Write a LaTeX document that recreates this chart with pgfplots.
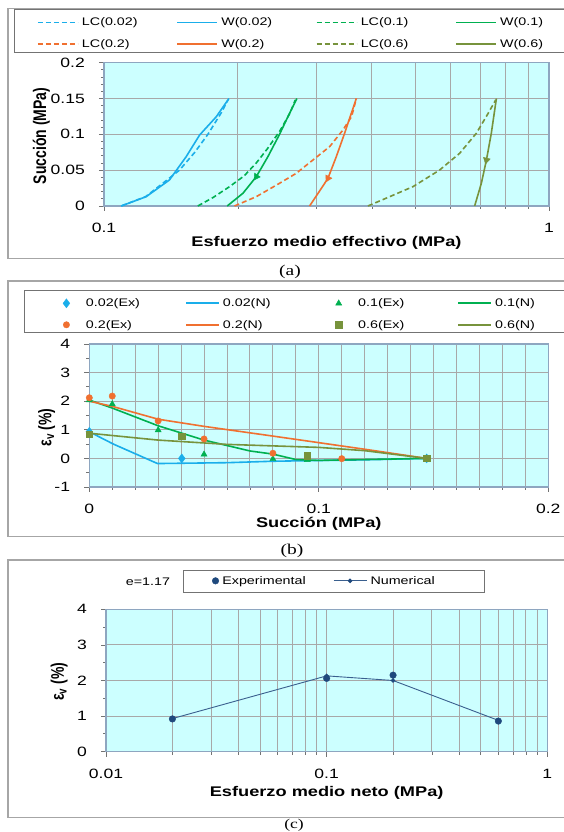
\documentclass[border=0pt]{standalone}
\usepackage{fontspec}
\setmainfont{Liberation Sans}
\newfontfamily\capfont{Liberation Serif}
\usepackage{pgfplots}
\pgfplotsset{compat=1.18}
\definecolor{cBlue}{HTML}{1AAEEA}
\definecolor{cGreen}{HTML}{00B050}
\definecolor{cOrange}{HTML}{F07030}
\definecolor{cOlive}{HTML}{77933C}
\definecolor{cNavy}{HTML}{1F497D}
\definecolor{cNavyL}{HTML}{3A5F8E}
\definecolor{cBg}{HTML}{CCFFFF}
\definecolor{cGrid}{HTML}{A8A8A8}
\definecolor{cAxis}{HTML}{8EA6C0}
\definecolor{cFrame}{HTML}{A6A6A6}
\newcommand{\hs}[1]{\scalebox{1.3}[1]{#1}}
\newcommand{\vs}[1]{\scalebox{1}[1.3]{#1}}
\newcommand{\tickfont}{\fontsize{13.5}{14}\selectfont}
\newcommand{\labfont}{\fontsize{14}{15}\selectfont\bfseries}
\newcommand{\legfont}{\fontsize{11}{12}\selectfont}
\pgfplotsset{
  myaxis/.style={
    scale only axis, anchor=south west, clip=false,
    axis background/.style={fill=cBg},
    axis line style={cAxis, line width=1.2pt},
    major grid style={cGrid, line width=1pt},
    minor grid style={cGrid, line width=1pt},
    tick style={black!55, line width=0.8pt},
    major tick length=5pt, minor tick length=3pt,
    tick align=outside, tick pos=left,
    xticklabel style={font=\tickfont, anchor=center, yshift=-17pt},
    yticklabel style={font=\tickfont, anchor=east, inner sep=0pt, xshift=-14pt},
    legend cell align=left,
  },
}
\begin{document}
\begin{tikzpicture}
\path[use as bounding box] (0pt,0pt) rectangle (563pt,832pt);
% frames
\draw[cFrame, line width=1.4pt] (8pt,573.5pt) rectangle (580pt,823.5pt);
\draw[cFrame, line width=1.4pt] (8pt,295.3pt) rectangle (580pt,551pt);
\draw[cFrame, line width=1.4pt] (8pt,14.5pt) rectangle (580pt,272pt);
\node[font=\capfont\fontsize{15}{16}\selectfont] at (290pt,560pt) {\hs{(a)}};
\node[font=\capfont\fontsize{15}{16}\selectfont] at (292pt,281.3pt) {\hs{(b)}};
\node[font=\capfont\fontsize{13.5}{14}\selectfont, inner sep=0pt] at (294pt,6.8pt) {\hs{(c)}};
% legend boxes
\draw[black!55, line width=1pt, fill=white] (14pt,779.3pt) rectangle (600pt,822.7pt);
\draw[black!55, line width=1pt, fill=white] (24.4pt,499pt) rectangle (600pt,541pt);
\draw[black!55, line width=1pt, fill=white] (183.8pt,239.7pt) rectangle (484pt,261.3pt);

% ---------------- (a)
\begin{axis}[myaxis, at={(104pt,626pt)}, width=445pt, height=143.3pt,
  xmode=log, xmin=0.1, xmax=1, ymin=0, ymax=0.2,
  xtick={0.1,1}, xticklabels={\hs{0.1},\hs{1}},
  minor xtick={0.2,0.3,0.4,0.5,0.6,0.7,0.8,0.9},
  ytick={0,0.05,0.1,0.15,0.2},
  yticklabels={\hs{0},\hs{0.05},\hs{0.1},\hs{0.15},\hs{0.2}},
  minor ytick={0.01,0.02,0.03,0.04,0.06,0.07,0.08,0.09,0.11,0.12,0.13,0.14,0.16,0.17,0.18,0.19},
  xmajorgrids, xminorgrids, ymajorgrids,
  xlabel={\hs{\labfont Esfuerzo medio effectivo (MPa)}},
  ylabel={\vs{\labfont Succión (MPa)}},
  x label style={at={(axis description cs:0.5,-0.2603)}, anchor=center},
  y label style={at={(axis description cs:-0.1409,0.4885)}, anchor=center},
  legend columns=4,
  legend image code/.code={\draw[#1, line width=1.7pt, line cap=butt] (0pt,0pt) -- (40pt,0pt);},
  legend style={at={(-0.1506,1.325)}, anchor=north west, draw=none, fill=none,
    inner sep=0pt, outer sep=0pt, font=\legfont, row sep=9pt,
    nodes={inner sep=1.5pt},
    /tikz/every odd column/.append style={column sep=1.8pt},
    /tikz/every even column/.append style={column sep=7.9pt}},
]
\addplot[cBlue, line width=1.6pt, dash pattern=on 5pt off 3pt] coordinates {(0.1093,0) (0.124,0.013) (0.1345,0.03) (0.1478,0.05) (0.160,0.075) (0.1712,0.1) (0.1834,0.13) (0.1900,0.148)};
\addlegendentry{\makebox[85pt][l]{\hs{LC(0.02)}}}
\addplot[cBlue, line width=1.6pt] coordinates {(0.1093,0) (0.1244,0.013) (0.1403,0.0363) (0.1530,0.0688) (0.1640,0.099) (0.1788,0.1246) (0.1909,0.15)};
\addlegendentry{\makebox[85pt][l]{\hs{W(0.02)}}}
\addplot[cGreen, line width=1.6pt, dash pattern=on 5pt off 3pt] coordinates {(0.1625,0) (0.176,0.012) (0.1915,0.027) (0.2065,0.042) (0.2199,0.06) (0.233,0.08) (0.2486,0.105) (0.262,0.13) (0.269,0.148)};
\addlegendentry{\makebox[85pt][l]{\hs{LC(0.1)}}}
\addplot[cGreen, line width=1.6pt] coordinates {(0.1892,0) (0.2052,0.0177) (0.2199,0.0409) (0.2335,0.0688) (0.248,0.1) (0.259,0.1246) (0.2713,0.15)};
\addlegendentry{\makebox[85pt][l]{\hs{W(0.1)}}}
\addplot[cOrange, line width=1.6pt, dash pattern=on 5pt off 3pt] coordinates {(0.1965,0) (0.2199,0.013) (0.248,0.0317) (0.2704,0.0456) (0.2948,0.0642) (0.3214,0.0828) (0.3443,0.106) (0.3602,0.125) (0.369,0.15)};
\addlegendentry{\makebox[85pt][l]{\hs{LC(0.2)}}}
\addplot[cOrange, line width=1.6pt] coordinates {(0.2897,0) (0.3045,0.02) (0.3186,0.0386) (0.3327,0.0688) (0.3473,0.1015) (0.369,0.15)};
\addlegendentry{\makebox[85pt][l]{\hs{W(0.2)}}}
\addplot[cOlive, line width=1.6pt, dash pattern=on 5pt off 3pt] coordinates {(0.3918,0) (0.4385,0.013) (0.4947,0.027) (0.5679,0.0502) (0.630,0.0736) (0.6867,0.1015) (0.7295,0.129) (0.7591,0.148)};
\addlegendentry{\makebox[85pt][l]{\hs{LC(0.6)}}}
\addplot[cOlive, line width=1.6pt] coordinates {(0.6807,0) (0.7047,0.0317) (0.7234,0.064) (0.742,0.1015) (0.7618,0.15)};
\addlegendentry{\makebox[85pt][l]{\hs{W(0.6)}}}
% direction arrows
\addplot[forget plot, only marks, mark=triangle*, mark size=4pt, cGreen, mark options={rotate=146}] coordinates {(0.2199,0.0409)};
\addplot[forget plot, only marks, mark=triangle*, mark size=4pt, cOrange, mark options={rotate=152}] coordinates {(0.3186,0.0386)};
\addplot[forget plot, only marks, mark=triangle*, mark size=4pt, cOlive, mark options={rotate=167}] coordinates {(0.7234,0.064)};
\end{axis}

% ---------------- (b)
\begin{axis}[myaxis, at={(89.3pt,345pt)}, width=459pt, height=143pt,
  xmin=0, xmax=0.2, ymin=-1, ymax=4,
  xtick={0,0.1,0.2}, xticklabels={\hs{0},\hs{0.1},\hs{0.2}},
  minor xtick={0.01,0.02,0.03,0.04,0.05,0.06,0.07,0.08,0.09,0.11,0.12,0.13,0.14,0.15,0.16,0.17,0.18,0.19},
  ytick={-1,0,1,2,3,4}, yticklabels={\hs{-1},\hs{0},\hs{1},\hs{2},\hs{3},\hs{4}},
  minor ytick={-0.5,0.5,1.5,2.5,3.5},
  xmajorgrids, xminorgrids, ymajorgrids,
  xlabel={\hs{\labfont Succión (MPa)}},
  ylabel={\vs{\labfont ε\textsubscript{v} (\%)}},
  x label style={at={(axis description cs:0.5,-0.2587)}, anchor=center},
  y label style={at={(axis description cs:-0.0928,0.416)}, anchor=center},
  legend columns=4,
  legend image code/.code={\draw[#1, line width=1.7pt, line cap=butt] (0pt,0pt) -- (33pt,0pt);},
  legend style={at={(-0.0858,1.328)}, anchor=north west, draw=none, fill=none,
    inner sep=0pt, outer sep=0pt, font=\legfont, row sep=9pt,
    nodes={inner sep=1.5pt},
    /tikz/every odd column/.append style={column sep=1.5pt},
    /tikz/every even column/.append style={column sep=9.8pt}},
  markleg/.style={legend image code/.code={\path[draw=none, fill=none] (0pt,0pt) -- (33pt,0pt); \draw[##1] plot coordinates {(16.5pt,0pt)};}},
]
\addplot[markleg, only marks, mark=diamond*, mark size=4.5pt, cBlue] coordinates {(0,0.93) (0.0403,0) (0.147,0)};
\addlegendentry{\makebox[88pt][l]{\hs{0.02(Ex)}}}
\addplot[cBlue, line width=1.6pt] coordinates {(0,0.93) (0.0105,0.5) (0.0297,-0.18) (0.06,-0.15) (0.08,-0.1) (0.095,-0.08) (0.12,-0.05) (0.147,0)};
\addlegendentry{\makebox[88pt][l]{\hs{0.02(N)}}}
\addplot[markleg, only marks, mark=triangle*, mark size=3.5pt, cGreen] coordinates {(0,2.04) (0.01,1.9) (0.03,0.99) (0.05,0.14) (0.08,-0.02) (0.095,-0.05) (0.147,0)};
\addlegendentry{\makebox[88pt][l]{\hs{0.1(Ex)}}}
\addplot[cGreen, line width=1.6pt] coordinates {(0,2.04) (0.01,1.76) (0.03,1.14) (0.05,0.64) (0.07,0.26) (0.08,0.15) (0.09,-0.04) (0.1,-0.07) (0.12,-0.04) (0.147,0)};
\addlegendentry{\makebox[88pt][l]{\hs{0.1(N)}}}
\addplot[markleg, only marks, mark=*, mark size=3.2pt, cOrange] coordinates {(0,2.12) (0.01,2.18) (0.03,1.31) (0.05,0.68) (0.08,0.18) (0.11,-0.01) (0.147,0)};
\addlegendentry{\makebox[88pt][l]{\hs{0.2(Ex)}}}
\addplot[cOrange, line width=1.6pt] coordinates {(0,2.0) (0.01,1.82) (0.03,1.37) (0.05,1.12) (0.08,0.78) (0.1,0.55) (0.12,0.32) (0.147,0)};
\addlegendentry{\makebox[88pt][l]{\hs{0.2(N)}}}
\addplot[markleg, only marks, mark=square*, mark size=3.3pt, cOlive] coordinates {(0,0.84) (0.0403,0.78) (0.095,0.09) (0.147,0)};
\addlegendentry{\makebox[88pt][l]{\hs{0.6(Ex)}}}
\addplot[cOlive, line width=1.6pt] coordinates {(0,0.88) (0.03,0.64) (0.06,0.49) (0.1,0.385) (0.12,0.27) (0.147,0)};
\addlegendentry{\makebox[88pt][l]{\hs{0.6(N)}}}
\end{axis}

% ---------------- (c)
\node[font=\legfont] at (148pt,250.3pt) {\hs{e=1.17}};
\begin{axis}[myaxis, at={(106pt,80.3pt)}, width=441.3pt, height=142.4pt,
  xmode=log, xmin=0.01, xmax=1, ymin=0, ymax=4,
  xtick={0.01,0.1,1}, xticklabels={\hs{0.01},\hs{0.1},\hs{1}},
  minor xtick={0.02,0.03,0.04,0.05,0.06,0.07,0.08,0.09,0.2,0.3,0.4,0.5,0.6,0.7,0.8,0.9},
  ytick={0,1,2,3,4}, yticklabels={\hs{0},\hs{1},\hs{2},\hs{3},\hs{4}},
  minor ytick={0.5,1.5,2.5,3.5},
  xmajorgrids, xminorgrids, ymajorgrids,
  xlabel={\hs{\labfont Esfuerzo medio neto (MPa)}},
  ylabel={\vs{\labfont ε\textsubscript{v} (\%)}},
  x label style={at={(axis description cs:0.5,-0.29)}, anchor=center},
  y label style={at={(axis description cs:-0.106,0.4916)}, anchor=center},
  legend columns=2,
  legend image code/.code={\draw[mark repeat=2,mark phase=2,#1] plot coordinates {(0pt,0pt) (16.5pt,0pt) (33pt,0pt)};},
  legend style={at={(0.2407,1.2437)}, anchor=north west, draw=none, fill=none,
    inner sep=0pt, outer sep=0pt, font=\legfont,
    nodes={inner sep=1.5pt},
    /tikz/every odd column/.append style={column sep=2pt},
    /tikz/every even column/.append style={column sep=9.3pt}},
]
\addplot[only marks, mark=*, mark size=3.3pt, cNavy] coordinates {(0.02,0.92) (0.1,2.06) (0.2,2.15) (0.6,0.86)};
\addlegendentry{\makebox[100pt][l]{\hs{Experimental}}}
\addplot[cNavyL, line width=0.9pt, mark=*, mark size=1.8pt, mark options={fill=cNavy, draw=cNavy}] coordinates {(0.02,0.93) (0.1,2.13) (0.2,2.0) (0.6,0.88)};
\addlegendentry{\makebox[66pt][l]{\hs{Numerical}}}
\end{axis}
\end{tikzpicture}
\end{document}
